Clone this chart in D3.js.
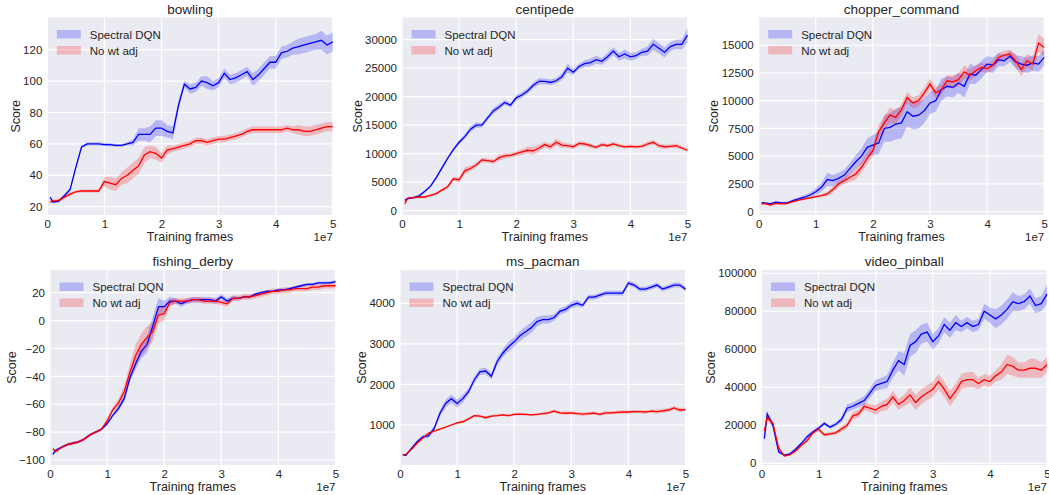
<!DOCTYPE html>
<html>
<head>
<meta charset="utf-8">
<script src="https://cdn.jsdelivr.net/npm/d3@7"></script>
<style>
body { margin: 0; background: #fff; }
text { font-family: "Liberation Sans", Arial, sans-serif; fill: #262626; }
</style>
</head>
<body>
<div id="chart"></div>
<script>
// training frames, in millions (axis shows them in units of 1e7)
var frames = [0.5, 1, 2, 3, 4, 5, 6, 7, 8, 9,
  10, 11, 12, 13, 14, 15, 16, 17, 18, 19,
  20, 21, 22, 23, 24, 25, 26, 27, 28, 29,
  30, 31, 32, 33, 34, 35, 36, 37, 38, 39,
  40, 41, 42, 43, 44, 45, 46, 47, 48, 49, 50];

var xTickValues = [0, 10, 20, 30, 40, 50];
var xTickLabels = ["0", "1", "2", "3", "4", "5"];

var seriesNames = ["Spectral DQN", "No wt adj"];
var games = ["bowling", "centipede", "chopper_command", "fishing_derby", "ms_pacman", "video_pinball"];

// ---- bowling
var bowlingSpectral = [26, 23, 23.5, 27, 31, 45, 58, 60, 60, 60,
  59.5, 59.5, 59, 59, 60, 61, 66, 66, 66, 70,
  70, 68, 67, 85, 98, 95, 96, 100, 99, 97,
  99, 105, 101, 102, 104, 106, 101, 104, 108, 112,
  112, 118, 119, 121, 122, 123, 124, 125, 126, 123, 125];
var bowlingSpectralSd = [1, 1, 1, 1, 1, 1, 1, 1, 1, 1,
  1, 1, 1, 1, 1, 2, 4, 4, 5, 5,
  5, 4, 4, 3, 2, 3, 3, 3, 4, 3,
  3, 3, 3, 3, 3, 3, 4, 4, 4, 4,
  4, 4, 4, 4, 5, 5, 5, 5, 6, 6, 6];
var bowlingNoAdj = [23, 23.5, 24, 26, 28, 29.5, 30, 30, 30, 30,
  36, 35, 34, 38, 40, 43, 46, 53, 55, 54,
  51, 56, 57, 58, 59, 60, 62, 62, 61, 62,
  63, 63, 64, 65, 66, 68, 69, 69, 69, 69,
  69, 69, 70, 69, 69, 68, 68, 69, 70, 71, 71];
var bowlingNoAdjSd = [1, 1, 1, 1, 1, 1, 1, 1, 1, 1,
  3, 4, 4, 4, 5, 5, 5, 5, 4, 4,
  3, 3, 2, 2, 2, 2, 2, 2, 2, 2,
  2, 2, 2, 2, 2, 2, 2, 2, 2, 2,
  2, 2, 2, 2, 3, 3, 3, 3, 3, 3, 3];

// ---- centipede
var centipedeSpectral = [1800, 2100, 2300, 2600, 3400, 4300, 5800, 7500, 9200, 10700,
  12000, 13000, 14300, 15000, 15000, 16300, 17500, 18200, 19000, 18500,
  19800, 20300, 21000, 22000, 22700, 22700, 22500, 22800, 23500, 25000,
  24300, 25300, 25800, 26000, 26500, 26200, 27000, 28000, 27000, 27500,
  27000, 27200, 27800, 28000, 29200, 28500, 27800, 28800, 29200, 29200, 30800];
var centipedeSpectralSd = [200, 200, 200, 200, 200, 250, 300, 300, 300, 300,
  400, 400, 500, 500, 400, 400, 500, 500, 400, 400,
  500, 500, 500, 500, 600, 500, 500, 500, 600, 800,
  500, 500, 600, 700, 700, 600, 700, 700, 700, 800,
  700, 600, 600, 800, 1000, 900, 900, 800, 800, 900, 1200];
var centipedeNoAdj = [1200, 2200, 2300, 2400, 2400, 2700, 3000, 3600, 4200, 5600,
  5400, 7000, 7400, 8000, 8900, 8800, 8600, 9300, 9600, 9700,
  10000, 10300, 10600, 10500, 11000, 11600, 11200, 12000, 11500, 11400,
  11200, 11800, 11700, 11400, 11100, 11600, 11400, 11700, 11400, 11200,
  11300, 11200, 11300, 11700, 12000, 11400, 11200, 11300, 11400, 11000, 10600];
var centipedeNoAdjSd = [200, 200, 200, 200, 200, 200, 250, 250, 300, 400,
  400, 600, 500, 400, 400, 400, 400, 500, 500, 400,
  400, 500, 600, 700, 600, 500, 500, 600, 500, 400,
  400, 400, 400, 400, 300, 400, 300, 400, 300, 300,
  300, 300, 300, 400, 400, 400, 400, 300, 400, 300, 300];

// ---- chopper_command
var chopperSpectral = [800, 800, 700, 850, 800, 800, 1000, 1150, 1300, 1500,
  1800, 2200, 2900, 2800, 3000, 3300, 3900, 4500, 5000, 5800,
  6000, 6200, 7500, 7600, 7900, 8000, 9000, 8600, 8700, 9100,
  9800, 10000, 11000, 11300, 11200, 11600, 11300, 12400, 12300, 12800,
  13300, 13200, 13700, 13600, 14000, 13500, 13300, 13200, 13400, 13300, 13900];
var chopperSpectralSd = [100, 100, 100, 100, 100, 100, 150, 150, 200, 200,
  300, 400, 600, 500, 500, 500, 500, 600, 700, 800,
  900, 1000, 1200, 1300, 1400, 1400, 1300, 1200, 1200, 1100,
  1000, 1000, 1000, 900, 900, 900, 1000, 900, 800, 800,
  700, 700, 600, 500, 500, 600, 700, 700, 700, 700, 700];
var chopperNoAdj = [700, 750, 600, 750, 700, 750, 900, 1050, 1150, 1250,
  1350, 1450, 1600, 2000, 2500, 2800, 3100, 3400, 4000, 4800,
  5500, 7200, 8000, 8700, 8500, 9200, 10300, 9800, 10000, 10700,
  11500, 10700, 11000, 11800, 11700, 11900, 12600, 12300, 12700, 13000,
  12900, 13200, 13900, 14100, 14200, 13600, 12800, 13600, 13300, 15200, 14800];
var chopperNoAdjSd = [100, 100, 100, 100, 100, 100, 100, 100, 100, 100,
  100, 150, 200, 300, 300, 300, 400, 500, 500, 500,
  500, 600, 600, 700, 600, 500, 500, 500, 500, 500,
  500, 500, 500, 500, 600, 600, 600, 500, 500, 400,
  400, 400, 400, 400, 400, 600, 600, 600, 600, 800, 800];

// ---- fishing_derby
var fishingSpectral = [-96, -93, -91, -89, -88, -87, -85, -82, -80, -78,
  -74, -68, -63, -56, -41, -31, -22, -17, -4, 10,
  10, 14, 14, 12, 14, 15, 15, 15, 15, 14,
  17, 14, 16, 16, 17, 17, 19, 20, 21, 21,
  22, 22, 23, 24, 25, 26, 26, 27, 27, 27, 28];
var fishingSpectralSd = [1, 1, 1, 1, 1, 1, 1, 1, 1, 1,
  1, 1, 2, 2, 3, 4, 5, 6, 7, 6,
  4, 3, 2, 2, 2, 2, 2, 2, 2, 2,
  2, 2, 2, 1, 1, 1, 1, 1, 1, 1,
  1, 1, 1, 1, 1, 1, 1, 1, 1, 1, 1];
var fishingNoAdj = [-92, -94, -91, -89, -88, -87, -85, -82, -80, -78,
  -72, -64, -59, -51, -37, -25, -17, -12, -8, 4,
  5, 13, 14, 14, 14, 15, 15, 14, 14, 14,
  13, 12, 16, 16, 17, 17, 18, 19, 20, 21,
  21, 22, 22, 23, 23, 23, 24, 24, 25, 25, 25];
var fishingNoAdjSd = [1, 1, 1, 1, 1, 1, 1, 1, 1, 1,
  2, 2, 3, 4, 6, 8, 8, 8, 7, 6,
  5, 3, 2, 2, 2, 2, 2, 2, 2, 2,
  2, 2, 2, 2, 2, 2, 2, 2, 2, 2,
  2, 2, 2, 2, 2, 2, 2, 2, 2, 2, 2];

// ---- ms_pacman
var pacmanSpectral = [270, 250, 420, 590, 710, 730, 920, 1290, 1530, 1650,
  1530, 1650, 1820, 2110, 2310, 2330, 2200, 2560, 2770, 2930,
  3050, 3200, 3300, 3400, 3550, 3600, 3600, 3650, 3800, 3850,
  3950, 4000, 3950, 4150, 4150, 4200, 4250, 4250, 4250, 4250,
  4500, 4450, 4350, 4350, 4400, 4450, 4350, 4400, 4450, 4450, 4350];
var pacmanSpectralSd = [20, 20, 30, 40, 50, 50, 60, 80, 100, 100,
  100, 100, 80, 80, 80, 80, 80, 100, 100, 120,
  120, 120, 130, 130, 120, 100, 100, 80, 80, 80,
  80, 80, 60, 60, 60, 60, 60, 60, 60, 60,
  60, 60, 60, 60, 60, 60, 60, 60, 60, 60, 60];
var pacmanNoAdj = [270, 270, 400, 550, 680, 800, 850, 900, 950, 1000,
  1050, 1080, 1150, 1230, 1220, 1180, 1220, 1230, 1250, 1230,
  1260, 1270, 1260, 1250, 1260, 1280, 1300, 1340, 1300, 1290,
  1300, 1280, 1270, 1280, 1290, 1260, 1300, 1300, 1310, 1320,
  1320, 1330, 1330, 1320, 1340, 1330, 1350, 1370, 1420, 1370, 1380];
var pacmanNoAdjSd = [20, 20, 20, 20, 20, 20, 20, 20, 20, 20,
  30, 30, 30, 30, 30, 30, 30, 30, 30, 30,
  30, 30, 30, 30, 30, 30, 40, 40, 40, 40,
  40, 40, 40, 40, 40, 40, 40, 40, 40, 40,
  40, 40, 40, 40, 40, 50, 50, 50, 50, 50, 50];

// ---- video_pinball
var pinballSpectral = [13000, 26000, 20000, 6000, 4300, 5000, 7500, 10500, 14000, 16500,
  18500, 21000, 19000, 20500, 23000, 29000, 30000, 31500, 33000, 37000,
  41000, 42000, 43000, 49000, 54000, 52000, 62000, 64000, 68000, 69000,
  64000, 67000, 73000, 70000, 74000, 72000, 74000, 72000, 73000, 80000,
  78000, 76000, 78000, 81000, 85000, 84000, 85000, 88000, 83000, 84000, 89000];
var pinballSpectralSd = [1000, 1500, 1500, 1000, 500, 500, 500, 800, 1000, 1000,
  1000, 1000, 1000, 1000, 1500, 2000, 2000, 2000, 2500, 2500,
  3000, 3000, 3500, 4000, 5000, 6000, 6000, 6000, 5000, 5000,
  4000, 4000, 4000, 4000, 4000, 3000, 3000, 3000, 3000, 4000,
  4000, 5000, 5000, 5000, 5000, 4000, 4000, 4000, 4000, 4000, 5000];
var pinballNoAdj = [17000, 24000, 21000, 8000, 3800, 4500, 6500, 9500, 12000, 16000,
  18000, 15000, 15500, 16000, 18000, 20000, 25000, 26000, 30000, 29000,
  28000, 30000, 31000, 35000, 31000, 33000, 36000, 32000, 35000, 37000,
  39000, 43000, 39000, 34000, 38000, 43000, 44000, 44000, 42000, 44000,
  43000, 46000, 48000, 52000, 51000, 49000, 49000, 50000, 50000, 49000, 52000];
var pinballNoAdjSd = [1000, 1500, 1500, 1000, 500, 500, 500, 800, 1000, 1000,
  1000, 1000, 1000, 1000, 1500, 1500, 2000, 2000, 2000, 2000,
  2500, 2500, 3000, 3000, 3000, 3000, 4000, 4000, 4000, 4000,
  4000, 4000, 4000, 4000, 4000, 4000, 4000, 4000, 3000, 3000,
  3000, 3000, 4000, 5000, 5000, 4000, 4000, 5000, 5000, 4000, 4000];

// y tick values per game
var bowlingTicks = [20, 40, 60, 80, 100, 120];
var centipedeTicks = [0, 5000, 10000, 15000, 20000, 25000, 30000];
var chopperTicks = [0, 2500, 5000, 7500, 10000, 12500, 15000];
var fishingTicks = [-100, -80, -60, -40, -20, 0, 20];
var pacmanTicks = [1000, 2000, 3000, 4000];
var pinballTicks = [0, 20000, 40000, 60000, 80000, 100000];

var width = 1049;
var height = 495;
var plotW = 285.5;
var colors = ["#0000ff", "#ff0000"];

var panels = [
  { title: games[0], left: 47.3, top: 17.5, bottom: 215, yDomain: [14.7, 140.5], ticks: bowlingTicks,
    series: [[bowlingSpectral, bowlingSpectralSd], [bowlingNoAdj, bowlingNoAdjSd]] },
  { title: games[1], left: 402, top: 17.5, bottom: 215, yDomain: [-760, 33900], ticks: centipedeTicks,
    series: [[centipedeSpectral, centipedeSpectralSd], [centipedeNoAdj, centipedeNoAdjSd]] },
  { title: games[2], left: 758.7, top: 17.5, bottom: 215, yDomain: [-300, 17500], ticks: chopperTicks,
    series: [[chopperSpectral, chopperSpectralSd], [chopperNoAdj, chopperNoAdjSd]] },
  { title: games[3], left: 50, top: 270, bottom: 465, yDomain: [-103.6, 36.3], ticks: fishingTicks,
    series: [[fishingSpectral, fishingSpectralSd], [fishingNoAdj, fishingNoAdjSd]] },
  { title: games[4], left: 400, top: 270, bottom: 465, yDomain: [14, 4821], ticks: pacmanTicks,
    series: [[pacmanSpectral, pacmanSpectralSd], [pacmanNoAdj, pacmanNoAdjSd]] },
  { title: games[5], left: 761.5, top: 270, bottom: 465, yDomain: [-900, 101700], ticks: pinballTicks,
    series: [[pinballSpectral, pinballSpectralSd], [pinballNoAdj, pinballNoAdjSd]] }
];

var svg = d3.select("#chart").append("svg")
    .attr("width", width)
    .attr("height", height);

panels.forEach(function (p) {
    var plotH = p.bottom - p.top;
    var g = svg.append("g")
        .attr("transform", "translate(" + p.left + "," + p.top + ")");

    var x = d3.scaleLinear().domain([0, 50]).range([0, plotW]);
    var y = d3.scaleLinear().domain(p.yDomain).range([plotH, 0]);

    g.append("rect")
        .attr("width", plotW)
        .attr("height", plotH)
        .attr("fill", "#EAEAF2");

    // grid
    g.selectAll(".gx").data(xTickValues).enter().append("line")
        .attr("x1", x).attr("x2", x)
        .attr("y1", 0).attr("y2", plotH)
        .attr("stroke", "#fff").attr("stroke-width", 1.2);
    g.selectAll(".gy").data(p.ticks).enter().append("line")
        .attr("x1", 0).attr("x2", plotW)
        .attr("y1", y).attr("y2", y)
        .attr("stroke", "#fff").attr("stroke-width", 1.2);

    var area = d3.area()
        .x(function (d, i) { return x(frames[i]); })
        .y0(function (d) { return y(d[0] - d[1]); })
        .y1(function (d) { return y(d[0] + d[1]); });
    var line = d3.line()
        .x(function (d, i) { return x(frames[i]); })
        .y(function (d) { return y(d); });

    // bands first, lines on top
    p.series.forEach(function (s, k) {
        var pairs = s[0].map(function (v, i) { return [v, s[1][i]]; });
        g.append("path")
            .attr("d", area(pairs))
            .attr("fill", colors[k])
            .attr("fill-opacity", 0.22);
    });
    p.series.forEach(function (s, k) {
        g.append("path")
            .attr("d", line(s[0]))
            .attr("fill", "none")
            .attr("stroke", colors[k])
            .attr("stroke-width", 1.3);
    });

    // axes
    var xAxis = g.append("g")
        .attr("transform", "translate(0," + plotH + ")")
        .call(d3.axisBottom(x).tickValues(xTickValues)
            .tickFormat(function (d, i) { return xTickLabels[i]; })
            .tickSize(0).tickPadding(5));
    var yAxis = g.append("g")
        .call(d3.axisLeft(y).tickValues(p.ticks)
            .tickFormat(d3.format("d"))
            .tickSize(0).tickPadding(5));
    [xAxis, yAxis].forEach(function (a) {
        a.select(".domain").remove();
        a.attr("font-family", null).attr("font-size", null);
        a.selectAll("text").style("font-size", "11.5px").attr("fill", "#262626");
    });

    var yb = yAxis.node().getBBox();
    g.append("text")
        .attr("transform", "translate(" + (yb.x - 3.5) + "," + (plotH / 2) + ") rotate(-90)")
        .attr("text-anchor", "middle")
        .style("font-size", "12.5px")
        .text("Score");

    g.append("text")
        .attr("x", plotW / 2)
        .attr("y", plotH + 25.5)
        .attr("text-anchor", "middle")
        .style("font-size", "12.5px")
        .text("Training frames");

    g.append("text")
        .attr("x", plotW)
        .attr("y", plotH + 25.5)
        .attr("text-anchor", "end")
        .style("font-size", "11.5px")
        .text("1e7");

    g.append("text")
        .attr("x", plotW / 2)
        .attr("y", -4)
        .attr("text-anchor", "middle")
        .style("font-size", "13.5px")
        .text(p.title);

    // legend
    var leg = g.append("g").attr("transform", "translate(9.5,12.5)");
    seriesNames.forEach(function (name, k) {
        leg.append("rect")
            .attr("x", 0).attr("y", k * 16)
            .attr("width", 24).attr("height", 8.5)
            .attr("fill", colors[k]).attr("fill-opacity", 0.22);
        leg.append("text")
            .attr("x", 33).attr("y", k * 16 + 8.5)
            .style("font-size", "11.5px")
            .text(name);
    });
});
</script>
</body>
</html>
